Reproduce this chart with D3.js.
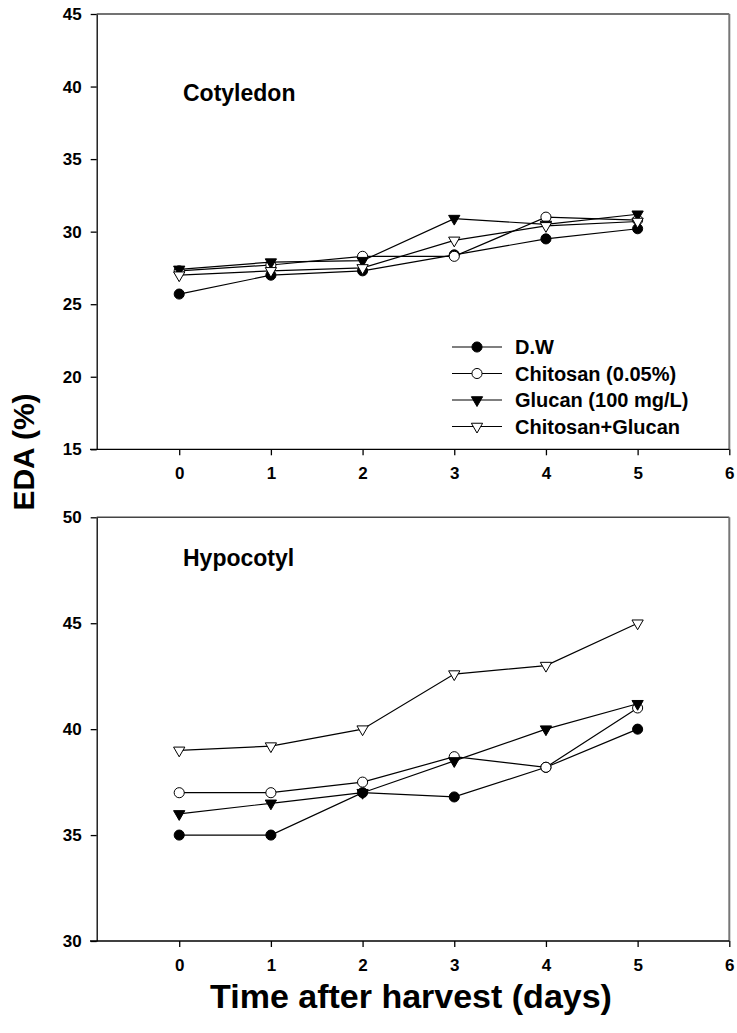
<!DOCTYPE html>
<html>
<head>
<meta charset="utf-8">
<script src="https://cdn.jsdelivr.net/npm/d3@7"></script>
<style>
  html, body { margin: 0; padding: 0; background: #fff; }
  svg { display: block; }
  text { font-family: "Liberation Sans", Arial, sans-serif; font-weight: bold; fill: #000; }
</style>
</head>
<body>
<svg id="chart" width="737" height="1033"></svg>
<script>
// Days after harvest and axis ticks
const days = [0, 1, 2, 3, 4, 5];
const xTicks = [0, 1, 2, 3, 4, 5, 6];
const cotTicks = [15, 20, 25, 30, 35, 40, 45];
const hypTicks = [30, 35, 40, 45, 50];

// Treatment names (legend order)
const treatments = ["D.W", "Chitosan (0.05%)", "Glucan (100 mg/L)", "Chitosan+Glucan"];

// Cotyledon EDA (%)
const cotDW       = [25.7, 27.0, 27.3, 28.4, 29.5, 30.2];
const cotChitosan = [27.3, 27.7, 28.3, 28.3, 31.0, 30.8];
const cotGlucan   = [27.4, 27.9, 28.0, 30.9, 30.5, 31.2];
const cotCombo    = [27.0, 27.3, 27.5, 29.4, 30.4, 30.7];

// Hypocotyl EDA (%)
const hypDW       = [35.0, 35.0, 37.0, 36.8, 38.2, 40.0];
const hypChitosan = [37.0, 37.0, 37.5, 38.7, 38.2, 41.0];
const hypGlucan   = [36.0, 36.5, 37.0, 38.5, 40.0, 41.2];
const hypCombo    = [39.0, 39.2, 40.0, 42.6, 43.0, 45.0];

const svg = d3.select("#chart");

// Marker styles per treatment: filled circle, open circle, filled/open down-triangle
const markers = [
  { type: d3.symbolCircle,   size: 80, fill: "#000", rotate: 0 },
  { type: d3.symbolCircle,   size: 80, fill: "#fff", rotate: 0 },
  { type: d3.symbolTriangle, size: 55, fill: "#000", rotate: 180 },
  { type: d3.symbolTriangle, size: 55, fill: "#fff", rotate: 180 }
];

const left = 96.7, right = 729.3;
const x = d3.scaleLinear().domain([-0.9, 6]).range([left, right]);
const fmt = d3.format("d");

function drawPanel(cfg) {
  const y = d3.scaleLinear().domain(cfg.yDomain).range([cfg.bottom, cfg.top]);
  const g = svg.append("g");

  // frame: top and right edges
  g.append("line").attr("x1", left).attr("x2", right).attr("y1", cfg.top).attr("y2", cfg.top)
    .attr("stroke", "#444").attr("stroke-width", 1.4);
  g.append("line").attr("x1", right).attr("x2", right).attr("y1", cfg.top).attr("y2", cfg.bottom)
    .attr("stroke", "#777").attr("stroke-width", 2);

  // y axis
  const ya = g.append("g").attr("transform", `translate(${left},0)`)
    .call(d3.axisLeft(y).tickValues(cfg.yTicks).tickFormat(fmt).tickSize(6).tickSizeOuter(0).tickPadding(9));
  ya.select(".domain").attr("stroke", "#000").attr("stroke-width", 1.3);
  ya.selectAll(".tick line").attr("stroke", "#000").attr("stroke-width", 1.3);
  ya.selectAll(".tick text").style("font-size", "17px").style("font-family", "'Liberation Sans', Arial, sans-serif").style("font-weight", "bold");

  // x axis (line extends slightly past the y axis)
  const xa = g.append("g").attr("transform", `translate(0,${cfg.bottom})`)
    .call(d3.axisBottom(x).tickValues(xTicks).tickFormat(fmt).tickSize(6).tickSizeOuter(0).tickPadding(12));
  xa.select(".domain").remove();
  xa.append("line").attr("x1", left - 6.7).attr("x2", right).attr("y1", 0).attr("y2", 0)
    .attr("stroke", "#000").attr("stroke-width", 1.3);
  xa.selectAll(".tick line").attr("stroke", "#000").attr("stroke-width", 1.3);
  xa.selectAll(".tick text").style("font-size", "17px").style("font-family", "'Liberation Sans', Arial, sans-serif").style("font-weight", "bold");

  // series lines and markers
  const line = d3.line().x((d, i) => x(days[i])).y(d => y(d));
  cfg.series.forEach((vals, si) => {
    g.append("path").datum(vals).attr("d", line)
      .attr("fill", "none").attr("stroke", "#000").attr("stroke-width", 1.2);
    const m = markers[si];
    g.selectAll(null).data(vals).join("path")
      .attr("d", d3.symbol().type(m.type).size(m.size))
      .attr("transform", (d, i) => `translate(${x(days[i])},${y(d)}) rotate(${m.rotate})`)
      .attr("fill", m.fill).attr("stroke", "#000").attr("stroke-width", 1);
  });

  // panel title
  g.append("text").attr("x", cfg.labelX).attr("y", cfg.labelY)
    .style("font-size", "23px").text(cfg.label);
  return y;
}

drawPanel({
  top: 14, bottom: 449.3, yDomain: [15, 45], yTicks: cotTicks,
  series: [cotDW, cotChitosan, cotGlucan, cotCombo],
  label: "Cotyledon", labelX: 183, labelY: 101
});

drawPanel({
  top: 517.3, bottom: 941, yDomain: [30, 50], yTicks: hypTicks,
  series: [hypDW, hypChitosan, hypGlucan, hypCombo],
  label: "Hypocotyl", labelX: 183, labelY: 566
});

// legend
const legend = svg.append("g");
treatments.forEach((name, i) => {
  const cy = 347 + i * 26.5;
  const m = markers[i];
  legend.append("line").attr("x1", 452).attr("x2", 502).attr("y1", cy).attr("y2", cy)
    .attr("stroke", "#000").attr("stroke-width", 1.2);
  legend.append("path").attr("d", d3.symbol().type(m.type).size(m.size))
    .attr("transform", `translate(477,${cy}) rotate(${m.rotate})`)
    .attr("fill", m.fill).attr("stroke", "#000").attr("stroke-width", 1);
  legend.append("text").attr("x", 515).attr("y", cy + 7).style("font-size", "20px").text(name);
});

// axis titles
svg.append("text").attr("transform", "translate(34,452) rotate(-90)")
  .attr("text-anchor", "middle").style("font-size", "30px").text("EDA (%)");
svg.append("text").attr("x", 411).attr("y", 1008)
  .attr("text-anchor", "middle").style("font-size", "34px").text("Time after harvest (days)");
</script>
</body>
</html>
